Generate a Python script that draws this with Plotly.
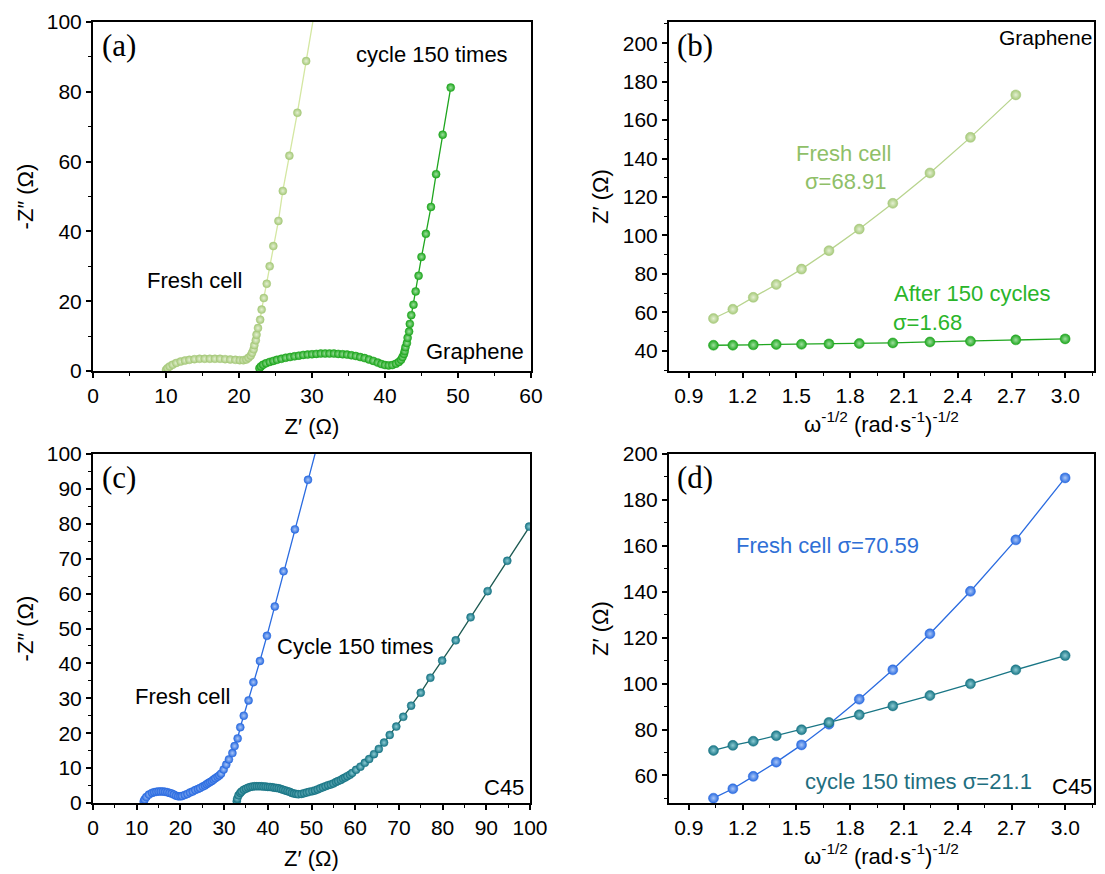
import plotly.graph_objects as go

# ---------------- data ----------------
# (a) Nyquist, graphene
a_fresh_x = [10.0, 10.2, 10.5, 10.9, 11.4, 12.0, 12.6, 13.2, 13.9, 14.6, 15.3, 16.0, 16.7, 17.4, 18.1,
             18.8, 19.5, 20.1, 20.6, 21.0, 21.3, 21.6, 21.8, 22.0, 22.1, 22.3, 22.4, 22.6, 22.9, 23.1,
             23.4, 23.8, 24.2, 24.7, 25.4, 26.0, 26.9, 28.0, 29.2, 30.6]
a_fresh_y = [0.3, 0.8, 1.3, 1.8, 2.3, 2.7, 3.0, 3.2, 3.4, 3.5, 3.5, 3.5, 3.5, 3.5, 3.4,
             3.3, 3.2, 3.1, 3.1, 3.3, 3.8, 4.4, 5.2, 6.2, 7.4, 8.8, 10.4, 12.3, 14.7, 17.6,
             20.9, 25.0, 30.0, 35.8, 43.0, 51.6, 61.7, 74.0, 88.8, 106.0]
a_cyc_x = [22.8, 23.0, 23.3, 23.7, 24.2, 24.7, 25.2, 25.8, 26.4, 27.0, 27.6, 28.2, 28.8, 29.4, 30.0,
           30.6, 31.2, 31.8, 32.4, 33.0, 33.6, 34.2, 34.8, 35.4, 36.0, 36.6, 37.2, 37.8, 38.4, 39.0,
           39.5, 40.0, 40.5, 41.0, 41.5, 41.9, 42.2, 42.4, 42.6, 42.7, 42.8, 43.0, 43.1, 43.3, 43.4,
           43.6, 43.9, 44.2, 44.6, 45.0, 45.6, 46.3, 47.0, 47.9, 49.0]
a_cyc_y = [0.8, 1.3, 1.8, 2.2, 2.6, 2.9, 3.2, 3.5, 3.8, 4.0, 4.2, 4.4, 4.6, 4.7, 4.8,
           4.9, 5.0, 5.0, 5.0, 5.0, 4.9, 4.8, 4.7, 4.5, 4.3, 4.0, 3.7, 3.3, 2.9, 2.4,
           2.0, 1.7, 1.6, 1.7, 2.1, 2.6, 3.2, 4.0, 4.9, 5.7, 6.8, 8.0, 9.5, 11.3, 13.5,
           16.0, 19.0, 22.8, 27.3, 32.7, 39.3, 47.0, 56.4, 67.7, 81.2]

# (b)/(d) Warburg plots
w_x = [1.038, 1.146, 1.260, 1.388, 1.529, 1.682, 1.851, 2.038, 2.245, 2.471, 2.724, 2.999]
b_fresh_y = [56.8, 61.6, 67.8, 74.5, 82.5, 92.1, 103.3, 116.7, 132.5, 151.0, 173.1]
b_cyc_y = [42.9, 42.9, 43.1, 43.3, 43.4, 43.6, 43.8, 44.1, 44.6, 45.0, 45.7, 46.2]
d_fresh_y = [50.1, 54.2, 59.6, 65.8, 73.3, 82.3, 93.2, 106.0, 121.7, 140.2, 162.6, 189.6]
d_cyc_y = [70.9, 73.1, 74.9, 77.3, 79.9, 83.1, 86.4, 90.3, 94.8, 99.9, 106.0, 112.2]

# (c) Nyquist, C45
c_fresh_x = [11.6, 11.8, 12.2, 12.8, 13.5, 14.0, 14.5, 15.0, 15.5, 16.0, 16.5, 17.0, 17.5, 18.0, 18.5,
             19.0, 19.5, 20.0, 20.4, 21.0, 21.6, 22.2, 22.8, 23.4, 24.0, 24.5, 25.1, 25.6, 26.0, 26.4,
             26.8, 27.2, 27.6, 28.0, 28.5, 28.9, 29.3, 29.9, 30.5, 31.1, 31.9, 32.4, 33.1, 33.7, 34.5,
             35.6, 36.7, 38.2, 39.8, 41.6, 43.6, 46.2, 49.2, 52.6]
c_fresh_y = [0.4, 1.0, 1.7, 2.4, 2.9, 3.1, 3.2, 3.3, 3.3, 3.3, 3.2, 3.1, 2.9, 2.7, 2.4,
             2.1, 1.9, 1.9, 2.0, 2.3, 2.6, 3.0, 3.3, 3.7, 4.0, 4.3, 4.7, 5.0, 5.4, 5.7,
             6.0, 6.3, 6.7, 7.1, 7.5, 7.9, 8.4, 9.6, 11.0, 12.5, 14.3, 16.3, 18.5, 21.7, 25.0,
             29.4, 34.6, 40.7, 47.9, 56.3, 66.4, 78.4, 92.6, 108.5]
c_cyc_x = [32.9, 33.0, 33.3, 33.7, 34.0, 34.5, 35.0, 35.5, 36.0, 36.5, 37.0, 37.5, 38.0, 38.5, 39.0,
           39.5, 40.0, 40.5, 41.0, 41.5, 42.0, 42.5, 43.0, 43.5, 44.0, 44.5, 45.0, 45.5, 46.0, 46.5,
           47.0, 47.7, 48.3, 48.9, 49.5, 50.2, 50.8, 51.4, 52.0, 52.6, 53.2, 53.8, 54.4, 55.0, 55.6,
           56.1, 56.7, 57.2, 57.7, 58.2, 58.8, 59.3, 60.2, 61.2, 62.2, 63.2, 64.3, 65.4, 66.6, 67.9,
           69.4, 71.0, 72.8, 75.0, 77.2, 79.9, 83.0, 86.4, 90.3, 94.8, 99.8, 105.0]
c_cyc_y = [0.5, 1.2, 2.2, 2.9, 3.3, 3.8, 4.1, 4.4, 4.6, 4.7, 4.8, 4.8, 4.8, 4.8, 4.7,
           4.7, 4.6, 4.6, 4.5, 4.4, 4.3, 4.2, 4.0, 3.8, 3.6, 3.4, 3.2, 2.9, 2.7, 2.6,
           2.5, 2.6, 2.8, 3.0, 3.2, 3.4, 3.6, 3.9, 4.2, 4.5, 4.8, 5.1, 5.3, 5.6, 6.0,
           6.3, 6.6, 7.0, 7.3, 7.7, 8.1, 8.6, 9.5, 10.4, 11.5, 12.6, 14.0, 15.5, 17.3, 19.5,
           21.9, 24.7, 27.9, 31.6, 35.9, 40.8, 46.6, 53.2, 60.7, 69.4, 79.2, 89.0]

# ---------------- styling ----------------
PAGE_OFF = 8              # default body margin of the html page
W, H = 1105 - PAGE_OFF, 874 - PAGE_OFF
FONT = "Liberation Sans, Arial, sans-serif"
SERIF = "Liberation Serif, Times New Roman, serif"
C_FRESH_G = "#a6c97a"
C_FRESH_G_LINE = "#d4e7a2"
C_CYC_G = "#1fa61f"
C_BLUE = "#2a6be0"
C_TEAL = "#187585"


def px_x(p):
    return (p - PAGE_OFF) / W


def px_y(p):
    return 1 - (p - PAGE_OFF) / H


fig = go.Figure()


def add_series(x, y, xa, ya, mcol, hcol, lcol, size=8):
    fig.add_trace(go.Scatter(
        x=x, y=y, xaxis=xa, yaxis=ya, mode="lines+markers",
        line=dict(color=lcol, width=1.3),
        marker=dict(size=size, color=mcol, line=dict(color=mcol, width=0.5),
                    gradient=dict(type="radial", color=hcol)),
        showlegend=False))


add_series(a_fresh_x, a_fresh_y, "x", "y", C_FRESH_G, "#e4f0d2", C_FRESH_G_LINE, 8)
add_series(a_cyc_x, a_cyc_y, "x", "y", C_CYC_G, "#9ee09e", C_CYC_G, 8)
add_series(w_x[:len(b_fresh_y)], b_fresh_y, "x2", "y2", C_FRESH_G, "#e4f0d2", "#b8d48e", 10)
add_series(w_x, b_cyc_y, "x2", "y2", C_CYC_G, "#9ee09e", C_CYC_G, 10)
add_series(c_fresh_x, c_fresh_y, "x3", "y3", C_BLUE, "#a9c6f7", C_BLUE, 8)
add_series(c_cyc_x, c_cyc_y, "x3", "y3", C_TEAL, "#8ccbd4", "#1d5a52", 8)
add_series(w_x, d_fresh_y, "x4", "y4", C_BLUE, "#a9c6f7", C_BLUE, 10)
add_series(w_x, d_cyc_y, "x4", "y4", C_TEAL, "#8ccbd4", C_TEAL, 10)


def axis(domain, rng, dtick, minor_dtick, anchor, title=None, standoff=8, tick0=None, fmt=None):
    d = dict(domain=domain, range=rng, dtick=dtick, anchor=anchor,
             showline=True, linecolor="black", linewidth=2, mirror=True,
             ticks="outside", ticklen=5, tickwidth=1.6, tickcolor="black",
             minor=dict(dtick=minor_dtick, ticks="outside", ticklen=3, tickwidth=1.3, tickcolor="black"),
             showgrid=False, zeroline=False, automargin=False,
             tickfont=dict(family=FONT, size=21, color="black"))
    if tick0 is not None:
        d["tick0"] = tick0
        d["minor"]["tick0"] = tick0
    if fmt:
        d["tickformat"] = fmt
    if title:
        d["title"] = dict(text=title, font=dict(family=FONT, size=22, color="black"), standoff=standoff)
    return d


xa_dom = [px_x(93), px_x(531)]
xb_dom = [px_x(669), px_x(1094)]
yt_dom = [px_y(371), px_y(22)]
yb_dom = [px_y(803), px_y(454)]
xc_dom = [px_x(93), px_x(530)]
xd_dom = [px_x(669), px_x(1094)]

w_title = "ω<sup>-1/2</sup> (rad·s<sup>-1</sup>)<sup>-1/2</sup>"

fig.update_layout(
    width=W, height=H,
    margin=dict(l=0, r=0, t=0, b=0),
    paper_bgcolor="white", plot_bgcolor="white",
    xaxis=axis(xa_dom, [0, 60], 10, 5, "y", "Z′ (Ω)", 12),
    yaxis=axis(yt_dom, [0, 100], 20, 10, "x", "-Z″ (Ω)", 7),
    xaxis2=axis(xb_dom, [0.79, 3.16], 0.3, 0.15, "y2", w_title, 10, tick0=0.9, fmt=".1f"),
    yaxis2=axis(yt_dom, [29.5, 211], 20, 10, "x2", "Z′ (Ω)", 8),
    xaxis3=axis(xc_dom, [0, 100], 10, 5, "y3", "Z′ (Ω)", 12),
    yaxis3=axis(yb_dom, [0, 100], 10, 5, "x3", "-Z″ (Ω)", 7),
    xaxis4=axis(xd_dom, [0.79, 3.16], 0.3, 0.15, "y4", w_title, 10, tick0=0.9, fmt=".1f"),
    yaxis4=axis(yb_dom, [48, 200], 20, 10, "x4", "Z′ (Ω)", 8),
)


def note(text, x, y, color="black", size=22, xanchor="center", family=FONT):
    fig.add_annotation(text=text, x=px_x(x), y=px_y(y), xref="paper", yref="paper",
                       xanchor=xanchor, yanchor="middle", showarrow=False,
                       font=dict(family=family, size=size, color=color))


# panel letters
note("(a)", 100, 45, size=31, xanchor="left", family=SERIF)
note("(b)", 675, 45, size=31, xanchor="left", family=SERIF)
note("(c)", 100, 477, size=31, xanchor="left", family=SERIF)
note("(d)", 675, 477, size=31, xanchor="left", family=SERIF)

# (a)
note("cycle 150 times", 432, 54)
note("Fresh cell", 194, 281)
note("Graphene", 526, 352, xanchor="right")
# (b)
note("Graphene", 1094, 38, xanchor="right", size=21)
note("Fresh cell", 843, 153, color="#8fbf68")
note("σ=68.91", 845, 182, color="#8fbf68")
note("After 150 cycles", 972, 293, color="#2ab52a")
note("σ=1.68", 927, 322, color="#2ab52a")
# (c)
note("Cycle 150 times", 355, 646)
note("Fresh cell", 182, 696)
note("C45", 526, 787, xanchor="right")
# (d)
note("Fresh cell σ=70.59", 827, 545, color="#2f6fd6")
note("cycle 150 times σ=21.1", 918, 781, color="#1f6f80")
note("C45", 1094, 786, xanchor="right")

fig.write_html("out.html")
